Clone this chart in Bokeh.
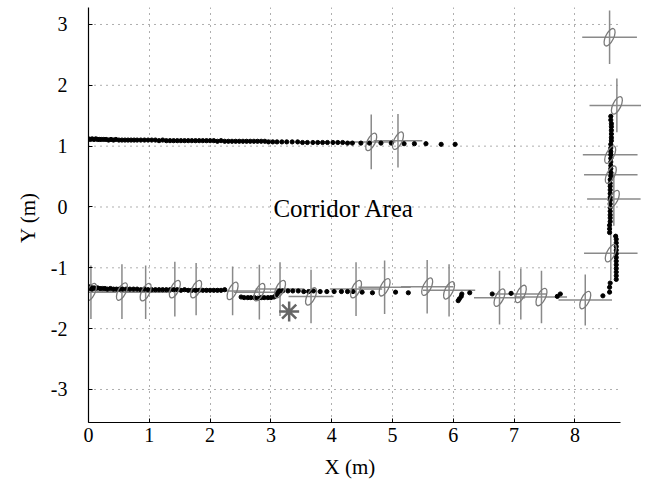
from bokeh.plotting import figure
from bokeh.models import FixedTicker, CustomJSTickFormatter, Range1d, Title
from bokeh.core.properties import value
from bokeh.embed import file_html
from bokeh.resources import INLINE

# ---------------- data ----------------
X_TICKS = [0, 1, 2, 3, 4, 5, 6, 7, 8]
Y_TICKS = [-3, -2, -1, 0, 1, 2, 3]
X_AXIS_END = 8.75

# upper corridor trajectory
TOP_X = [0.00, 0.03, 0.06, 0.09, 0.12, 0.15, 0.18, 0.21, 0.25, 0.29, 0.33, 0.37,
         0.41, 0.45, 0.50, 0.55, 0.60, 0.65, 0.70, 0.75, 0.80, 0.86, 0.92, 0.98,
         1.04, 1.10, 1.16, 1.22, 1.28, 1.34, 1.40, 1.46, 1.52, 1.58, 1.64, 1.70,
         1.76, 1.82, 1.88, 1.94, 2.00, 2.06, 2.12, 2.18, 2.24, 2.30, 2.36, 2.42,
         2.48, 2.54, 2.60, 2.66, 2.72, 2.78, 2.84, 2.90, 2.96, 3.03, 3.10, 3.18,
         3.26, 3.35, 3.44, 3.52, 3.60, 3.69, 3.77, 3.85, 3.93, 4.02, 4.10, 4.18,
         4.26, 4.34, 4.48, 4.62, 4.81, 4.98, 5.19, 5.36, 5.55, 5.80, 6.03]
TOP_Y = [1.12, 1.11, 1.12, 1.11, 1.12, 1.11, 1.11, 1.11, 1.11, 1.11, 1.10, 1.11,
         1.10, 1.11, 1.10, 1.10, 1.10, 1.10, 1.10, 1.10, 1.10, 1.10, 1.10, 1.10,
         1.10, 1.10, 1.09, 1.10, 1.09, 1.09, 1.09, 1.09, 1.09, 1.09, 1.09, 1.09,
         1.09, 1.09, 1.09, 1.09, 1.09, 1.09, 1.08, 1.09, 1.08, 1.08, 1.08, 1.08,
         1.08, 1.08, 1.08, 1.08, 1.08, 1.08, 1.08, 1.08, 1.07, 1.07, 1.07, 1.07,
         1.07, 1.07, 1.07, 1.06, 1.06, 1.06, 1.06, 1.06, 1.06, 1.06, 1.06, 1.06,
         1.05, 1.05, 1.05, 1.05, 1.05, 1.05, 1.04, 1.04, 1.04, 1.03, 1.03]

# lower corridor trajectory and turn into the vertical corridor
BOT_X = [0.00, 0.02, 0.04, 0.06, 0.09, 0.12, 0.15, 0.19, 0.23, 0.27, 0.31, 0.36,
         0.41, 0.46, 0.51, 0.56, 0.62, 0.68, 0.74, 0.80, 0.86, 0.92, 0.98, 1.04,
         1.10, 1.16, 1.22, 1.28, 1.34, 1.40, 1.46, 1.52, 1.58, 1.64, 1.70, 1.76,
         1.82, 1.88, 1.94, 2.00, 2.06, 2.12, 2.18, 2.24,
         2.51, 2.56, 2.62, 2.67, 2.73, 2.78, 2.84, 2.89, 2.95, 3.00, 3.05,
         3.08, 3.10, 3.12, 3.14,
         3.19, 3.28, 3.36, 3.45, 3.54, 3.62, 3.70, 3.81, 3.92, 4.04, 4.16, 4.26,
         4.35, 4.50, 4.67, 5.05, 5.26,
         6.08, 6.10, 6.13, 6.14, 6.27, 6.64, 6.95, 7.71, 7.76, 8.46,
         8.57, 8.57, 8.58,
         8.68, 8.68, 8.68, 8.68, 8.68, 8.68, 8.68, 8.68, 8.68, 8.68, 8.68, 8.68, 8.67,
         8.57, 8.57, 8.57, 8.58, 8.58, 8.58, 8.58, 8.58, 8.58, 8.58, 8.58, 8.58,
         8.58, 8.58, 8.58, 8.58, 8.59, 8.59, 8.59, 8.59, 8.59, 8.59, 8.59, 8.59,
         8.59, 8.59, 8.60, 8.60, 8.60, 8.60, 8.60, 8.60, 8.59, 8.59]
BOT_Y = [-1.31, -1.34, -1.32, -1.35, -1.33, -1.34, -1.33, -1.34, -1.34, -1.34, -1.35, -1.34,
         -1.35, -1.35, -1.35, -1.35, -1.35, -1.35, -1.35, -1.35, -1.36, -1.35, -1.36, -1.36,
         -1.36, -1.36, -1.36, -1.36, -1.36, -1.36, -1.36, -1.37, -1.36, -1.37, -1.37, -1.37,
         -1.37, -1.37, -1.37, -1.37, -1.37, -1.37, -1.37, -1.36,
         -1.48, -1.49, -1.49, -1.49, -1.49, -1.50, -1.49, -1.49, -1.49, -1.49, -1.48,
         -1.46, -1.43, -1.40, -1.38,
         -1.38, -1.38, -1.38, -1.38, -1.39, -1.39, -1.38, -1.39, -1.39, -1.39, -1.39, -1.39,
         -1.39, -1.40, -1.41, -1.40, -1.41,
         -1.54, -1.51, -1.47, -1.43, -1.41, -1.43, -1.42, -1.47, -1.43, -1.46,
         -1.40, -1.32, -1.25,
         -1.19, -1.13, -1.07, -1.01, -0.95, -0.89, -0.83, -0.77, -0.71, -0.65, -0.59, -0.53, -0.48,
         -0.42, -0.36, -0.30, -0.24, -0.18, -0.13, -0.07, -0.01, 0.05, 0.11, 0.16, 0.22,
         0.28, 0.34, 0.39, 0.45, 0.51, 0.57, 0.63, 0.68, 0.74, 0.80, 0.86, 0.91,
         0.97, 1.03, 1.09, 1.14, 1.20, 1.26, 1.32, 1.37, 1.43, 1.49]

# position estimates (uncertainty ellipses) with error crosses
EST_X = [4.65, 5.09, 0.04, 0.55, 0.94, 1.42, 1.77, 2.37, 2.81, 3.15, 3.66, 4.40,
         4.87, 5.57, 5.93, 6.76, 7.11, 7.45, 8.17, 8.59, 8.64, 8.59, 8.58, 8.69, 8.57]
EST_Y = [1.07, 1.09, -1.40, -1.39, -1.40, -1.35, -1.35, -1.38, -1.40, -1.35, -1.47, -1.35,
         -1.32, -1.31, -1.37, -1.49, -1.43, -1.48, -1.53, -0.76, 0.13, 0.53, 0.86, 1.67, 2.79]
ERR_X = [0.40, 0.40, 0.42, 0.42, 0.42, 0.42, 0.42, 0.42, 0.42, 0.40, 0.37, 0.43,
         0.43, 0.43, 0.43, 0.42, 0.42, 0.42, 0.44, 0.44, 0.44, 0.44, 0.45, 0.45, 0.45]
ERR_Y = [0.45, 0.44, 0.44, 0.45, 0.44, 0.45, 0.43, 0.40, 0.45, 0.44, 0.44, 0.44,
         0.44, 0.44, 0.43, 0.44, 0.42, 0.43, 0.42, 0.44, 0.44, 0.44, 0.44, 0.44, 0.44]

# target marker
STAR_X = [3.30]
STAR_Y = [-1.72]

LABEL_X = [4.20]
LABEL_Y = [-0.02]
LABEL_TEXT = ["Corridor Area"]

X_LABEL = "X  (m)"
Y_LABEL = "Y  (m)"

# ---------------- figure ----------------
FONT = "Liberation Serif"
GRID = "#5e5e5e"
GRAY = "#8a8a8a"

p = figure(width=641, height=486, output_backend="svg", toolbar_location=None,
           x_range=Range1d(0, 9.095), y_range=Range1d(-3.5425, 3.279),
           min_border_left=88, min_border_right=0, min_border_top=7, min_border_bottom=64)
p.outline_line_color = None
p.background_fill_color = "white"
p.border_fill_color = "white"

p.xaxis.ticker = FixedTicker(ticks=X_TICKS)
p.yaxis.ticker = FixedTicker(ticks=Y_TICKS)
p.xaxis.bounds = (0, X_AXIS_END)
p.xaxis.formatter = CustomJSTickFormatter(code="return tick.toFixed(0);")
p.yaxis.formatter = CustomJSTickFormatter(code="return tick.toFixed(0);")

for ax in (p.xaxis, p.yaxis):
    ax.axis_line_color = "black"
    ax.axis_line_width = 1.2
    ax.major_tick_in = 4
    ax.major_tick_out = 0
    ax.minor_tick_line_color = None
    ax.major_tick_line_color = "black"
    ax.major_label_text_font = FONT
    ax.major_label_text_font_size = "20px"
    ax.major_label_text_color = "black"

p.xaxis.major_label_standoff = 5
p.yaxis.major_label_standoff = 21
p.yaxis.axis_label = Y_LABEL
p.yaxis.axis_label_text_font = FONT
p.yaxis.axis_label_text_font_size = "21px"
p.yaxis.axis_label_text_font_style = "normal"
p.yaxis.axis_label_text_color = "black"
p.yaxis.axis_label_standoff = 8

p.xgrid.grid_line_color = GRID
p.xgrid.grid_line_dash = "1 5"
p.xgrid.grid_line_width = 1
p.ygrid.grid_line_color = None

# horizontal grid lines stop where the x axis ends
p.segment(x0=[X_TICKS[0]] * len(Y_TICKS), x1=[X_AXIS_END] * len(Y_TICKS),
          y0=Y_TICKS, y1=Y_TICKS, line_color=GRID, line_dash="1 5", line_width=1)

# error crosses
p.segment(x0=[x - e for x, e in zip(EST_X, ERR_X)], x1=[x + e for x, e in zip(EST_X, ERR_X)],
          y0=EST_Y, y1=EST_Y, line_color=GRAY, line_width=1.5)
p.segment(x0=EST_X, x1=EST_X, y0=[y - e for y, e in zip(EST_Y, ERR_Y)],
          y1=[y + e for y, e in zip(EST_Y, ERR_Y)], line_color=GRAY, line_width=1.5)

# trajectories
p.scatter(TOP_X, TOP_Y, size=4.2, color="black", marker="circle")
p.scatter(BOT_X, BOT_Y, size=4.2, color="black", marker="circle")

# ellipses
p.ellipse(x=EST_X, y=EST_Y, width=19, height=8, angle=64, angle_units="deg",
          width_units="screen", height_units="screen",
          fill_color=None, line_color="#7a7a7a", line_width=1.3)

# target asterisk
p.scatter(STAR_X, STAR_Y, marker="asterisk", size=20, line_color="#666666", line_width=2.5)

p.text(x=LABEL_X, y=LABEL_Y, text=LABEL_TEXT, text_font=value(FONT),
       text_font_size="25px", text_align="center", text_baseline="middle", text_color="black")

# x axis title, centred on the drawn axis (which stops before the frame edge)
p.add_layout(Title(text=X_LABEL, align="left", offset=236, standoff=16, vertical_align="bottom",
                   text_font=FONT, text_font_size="21px", text_font_style="normal",
                   text_color="black"), "below")

open("out.html", "w").write(file_html(p, INLINE))
